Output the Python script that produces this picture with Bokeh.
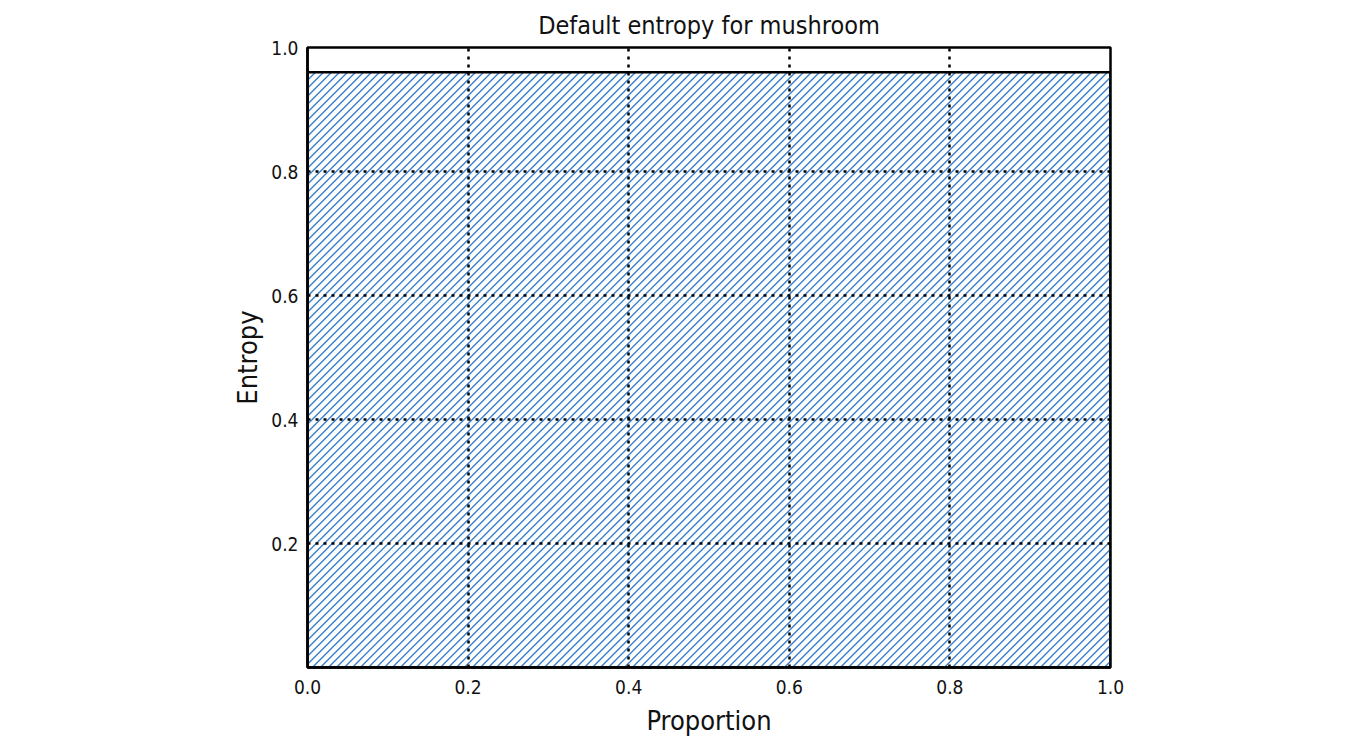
import numpy as np
from bokeh.plotting import figure
from bokeh.models import FixedTicker, PrintfTickFormatter, Range1d, ColumnDataSource
from bokeh.embed import file_html
from bokeh.resources import INLINE

# Data
labels = ["mushroom"]
left = [0.0]
right = [1.0]
entropy = [0.96]
x_ticks = [0.0, 0.2, 0.4, 0.6, 0.8, 1.0]
y_ticks = [0.2, 0.4, 0.6, 0.8, 1.0]

FONT = "'DejaVu Sans Condensed', 'Open Sans', sans-serif"
HATCH = "#3a82c8"

FRAME_W, FRAME_H = 803, 620   # frame size in px
SPACING = 8.0                 # hatch spacing in px

# 45-degree hatch segments clipped to the bar (computed from bar bounds)
x0s, y0s, x1s, y1s = [], [], [], []
for l, r, t in zip(left, right, entropy):
    W = (r - l) * FRAME_W
    H = t * FRAME_H
    for c in np.arange(-H, W, SPACING):
        xa = max(0.0, c)
        xb = min(W, H + c)
        if xb <= xa:
            continue
        x0s.append(l + xa / FRAME_W); y0s.append((xa - c) / FRAME_H)
        x1s.append(l + xb / FRAME_W); y1s.append((xb - c) / FRAME_H)

src = ColumnDataSource(dict(label=labels, left=left, right=right, top=entropy, bottom=[0.0]))
hsrc = ColumnDataSource(dict(x0=x0s, y0=y0s, x1=x1s, y1=y1s))

p = figure(width=1334, height=742, output_backend="svg", toolbar_location=None,
           x_range=Range1d(0, 1), y_range=Range1d(0, 1),
           title="Default entropy for mushroom",
           frame_width=FRAME_W, frame_height=FRAME_H,
           min_border_left=307, min_border_right=224, min_border_top=47, min_border_bottom=75)

p.segment(x0="x0", y0="y0", x1="x1", y1="y1", source=hsrc,
          line_color=HATCH, line_width=1.4)
p.quad(left="left", right="right", top="top", bottom="bottom", source=src,
       fill_color=None, line_color="black", line_width=2.5)

p.title.align = "center"
p.title.text_font = FONT
p.title.text_font_size = "25px"
p.title.text_font_style = "normal"
p.title.text_color = "#111111"
p.title.offset = 0
p.title.standoff = 16

for ax in (p.xaxis[0], p.yaxis[0]):
    ax.major_label_text_font = FONT
    ax.major_label_text_font_size = "19px"
    ax.major_label_text_color = "#111111"
    ax.axis_label_text_font = FONT
    ax.axis_label_text_font_size = "27px"
    ax.axis_label_text_font_style = "normal"
    ax.axis_label_text_color = "#111111"
    ax.major_tick_line_color = None
    ax.minor_tick_line_color = None
    ax.axis_line_color = "black"
    ax.axis_line_width = 2.5
    ax.formatter = PrintfTickFormatter(format="%.1f")

p.xaxis.ticker = FixedTicker(ticks=x_ticks)
p.yaxis.ticker = FixedTicker(ticks=y_ticks)
p.xaxis.axis_label = "Proportion"
p.yaxis.axis_label = "Entropy"
p.xaxis.major_label_standoff = 6
p.yaxis.major_label_standoff = 3
p.xaxis.axis_label_standoff = 8
p.yaxis.axis_label_standoff = 5

for g in (p.xgrid[0], p.ygrid[0]):
    g.grid_line_color = "black"
    g.grid_line_width = 2.5
    g.grid_line_dash = "3 5"
    g.level = "overlay"
p.xgrid.ticker = FixedTicker(ticks=[0.2, 0.4, 0.6, 0.8])
p.ygrid.ticker = FixedTicker(ticks=[0.2, 0.4, 0.6, 0.8])

p.outline_line_color = "black"
p.outline_line_width = 2.5
p.outline_line_alpha = 1.0

open("out.html", "w").write(file_html(p, INLINE))
